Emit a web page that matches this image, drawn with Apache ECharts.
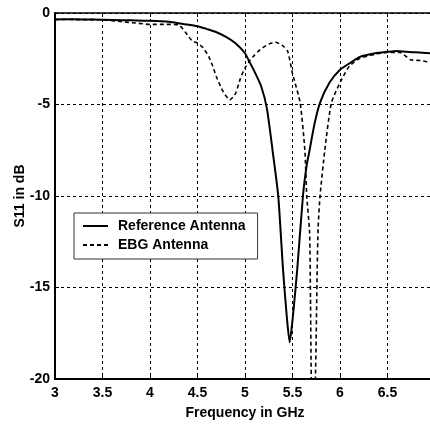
<!DOCTYPE html>
<html>
<head>
<meta charset="utf-8">
<script src="https://cdn.jsdelivr.net/npm/echarts@6/dist/echarts.min.js"></script>
<style>
  html, body { margin: 0; padding: 0; background: #fff; }
  #chart { width: 430px; height: 426px; }
</style>
</head>
<body>
<div id="chart"></div>
<script>
const refFreq = [3.0, 3.2, 3.4, 3.6, 3.8, 4.0, 4.2, 4.35, 4.5, 4.6, 4.7, 4.8, 4.9, 5.0, 5.05, 5.1, 5.17, 5.23, 5.29, 5.35, 5.4, 5.44, 5.47, 5.5, 5.55, 5.61, 5.65, 5.68, 5.73, 5.79, 5.89, 6.0, 6.1, 6.21, 6.37, 6.5, 6.6, 6.7, 6.8, 6.95, 7.0];
const refS11 = [-0.35, -0.34, -0.36, -0.38, -0.4, -0.42, -0.48, -0.6, -0.72, -0.88, -1.05, -1.3, -1.65, -2.2, -2.7, -3.2, -4.0, -5.2, -7.5, -10.0, -14.0, -16.6, -18.0, -16.8, -14.0, -10.0, -8.3, -7.5, -6.1, -4.9, -3.8, -3.1, -2.75, -2.4, -2.2, -2.12, -2.07, -2.12, -2.15, -2.2, -2.25];

const ebgFreq = [3.0, 3.2, 3.5, 3.7, 3.85, 4.0, 4.15, 4.3, 4.38, 4.44, 4.5, 4.56, 4.62, 4.66, 4.7, 4.77, 4.84, 4.9, 4.95, 5.0, 5.05, 5.1, 5.16, 5.25, 5.32, 5.4, 5.45, 5.5, 5.58, 5.63, 5.65, 5.68, 5.69, 5.7, 5.72, 5.74, 5.76, 5.77, 5.79, 5.84, 5.91, 6.02, 6.1, 6.2, 6.37, 6.5, 6.63, 6.74, 6.85, 6.95, 7.0];
const ebgS11 = [-0.35, -0.36, -0.37, -0.47, -0.55, -0.62, -0.62, -0.65, -1.1, -1.5, -1.65, -1.9, -2.4, -2.9, -3.5, -4.3, -4.75, -4.4, -3.6, -3.0, -2.6, -2.3, -2.0, -1.7, -1.6, -1.8, -2.1, -3.3, -4.9, -7.5, -10.0, -12.0, -16.0, -20.5, -21.5, -20.2, -14.0, -11.7, -10.0, -7.5, -4.9, -3.6, -2.9, -2.5, -2.25, -2.15, -2.15, -2.55, -2.6, -2.7, -2.75];

const xTicks = [3, 3.5, 4, 4.5, 5, 5.5, 6, 6.5];
const yTicks = [-20, -15, -10, -5, 0];

const zip = (xs, ys) => xs.map((x, i) => [x, ys[i]]);

const font = "'Liberation Sans', Arial, sans-serif";
const labelStyle = { color: "#000", fontSize: 14, fontWeight: "bold", fontFamily: font };
const gridDash = { color: "#000", width: 1, type: [3, 3] };

const option = {
  animation: false,
  backgroundColor: "#fff",
  grid: { left: 55, right: -5, top: 13, bottom: 47, containLabel: false, outerBoundsMode: "none" },
  legend: {
    orient: "vertical",
    left: 74,
    top: 213,
    backgroundColor: "#fff",
    borderColor: "#333",
    borderWidth: 1,
    borderRadius: 0,
    padding: [6, 12, 7, 8],
    itemWidth: 25,
    itemHeight: 14,
    itemGap: 5,
    itemStyle: { opacity: 0, borderWidth: 0 },
    textStyle: { ...labelStyle, padding: [0, 0, 0, 5] },
    data: ["Reference Antenna", "EBG Antenna"]
  },
  xAxis: [
    {
      type: "value",
      min: 3,
      max: 7,
      interval: 0.5,
      name: "Frequency in GHz",
      nameLocation: "middle",
      nameGap: 27,
      nameMoveOverlap: false,
      nameTextStyle: labelStyle,
      axisLine: { onZero: false, lineStyle: { color: "#000", width: 2 } },
      axisTick: { inside: true, length: 4, lineStyle: { color: "#000" } },
      axisLabel: {
        ...labelStyle,
        margin: 7,
        showMaxLabel: false,
        formatter: (v) => (xTicks.includes(v) ? String(v) : "")
      },
      splitLine: { show: true, lineStyle: gridDash }
    },
    {
      type: "value",
      position: "top",
      min: 3,
      max: 7,
      interval: 0.5,
      axisLine: { lineStyle: { color: "#000", width: 1.5 } },
      axisTick: { inside: true, length: 4, lineStyle: { color: "#000" } },
      axisLabel: { show: false },
      splitLine: { show: false }
    }
  ],
  yAxis: {
    type: "value",
    min: -20,
    max: 0,
    interval: 5,
    name: "S11 in dB",
    nameLocation: "middle",
    nameGap: 28,
    nameRotate: 90,
    nameMoveOverlap: false,
    nameTextStyle: labelStyle,
    axisLine: { show: true, onZero: false, lineStyle: { color: "#000", width: 2 } },
    axisTick: { show: true, inside: true, length: 4, lineStyle: { color: "#000" } },
    axisLabel: {
      ...labelStyle,
      margin: 5,
      formatter: (v) => (yTicks.includes(v) ? String(v) : "")
    },
    splitLine: { show: true, lineStyle: gridDash }
  },
  series: [
    {
      name: "Reference Antenna",
      type: "line",
      data: zip(refFreq, refS11),
      symbol: "none",
      smooth: 0.2,
      clip: true,
      lineStyle: { color: "#000", width: 2 },
      itemStyle: { color: "#000" }
    },
    {
      name: "EBG Antenna",
      type: "line",
      data: zip(ebgFreq, ebgS11),
      symbol: "none",
      smooth: 0.2,
      clip: true,
      lineStyle: { color: "#000", width: 1.6, type: [4, 3] },
      itemStyle: { color: "#000" }
    }
  ]
};

echarts.init(document.getElementById("chart")).setOption(option);
</script>
</body>
</html>
